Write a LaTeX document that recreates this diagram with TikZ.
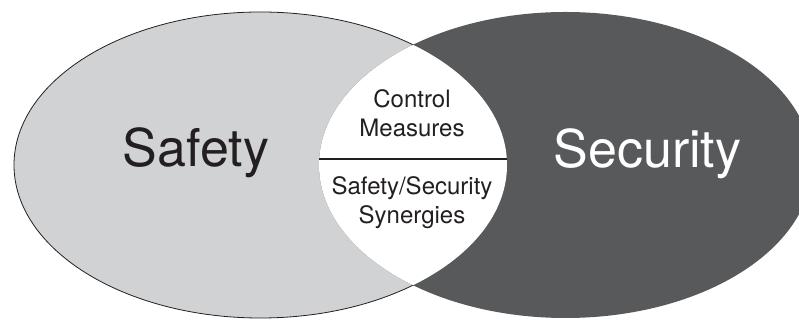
\documentclass[tikz,border=0pt]{standalone}
\usepackage{fontspec}
\setmainfont{TeX Gyre Heros}
\usetikzlibrary{positioning}
\definecolor{safetygray}{RGB}{209,210,212}
\definecolor{securitygray}{RGB}{88,89,91}
\definecolor{inkgray}{RGB}{35,31,32}

\begin{document}
\begin{tikzpicture}[x=1pt,y=1pt,
    set ellipse/.style={x radius=246.5,y radius=153},
    big label/.style={font=\fontsize{52}{60}\selectfont,anchor=base},
    small label/.style={font=\fontsize{24}{29}\selectfont,align=center,text=inkgray,inner sep=0pt}]
   \useasboundingbox (0,0) rectangle (799,320);
   \clip (0,0) rectangle (799,320);
   \coordinate (safety) at (260.5,155);
   \coordinate (security) at (565.5,155);
   % the two sets
   \fill[safetygray,draw=inkgray,line width=0.8pt] (safety) ellipse [set ellipse];
   \fill[securitygray] (security) ellipse [set ellipse];
   % the overlap
   \begin{scope}
     \clip (security) ellipse [set ellipse];
     \fill[white] (safety) ellipse [set ellipse];
     \clip (safety) ellipse [set ellipse];
     \coordinate (cut west) at (300,161);
     \coordinate (cut east) at (530,161);
     \path[-,line width=1.1pt,draw=inkgray] (cut west) edge (cut east);
   \end{scope}
   \node[big label,text=inkgray] (safe) at (196,153) {Safety};
   \node[big label,text=white] (sec) at (647.5,152) {Security};
   \node[small label] (control) at (412,207) {Control\\Measures};
   \node[small label] (synergy) at (412,117) {Safety/Security\\Synergies};
  \end{tikzpicture}
\end{document}
